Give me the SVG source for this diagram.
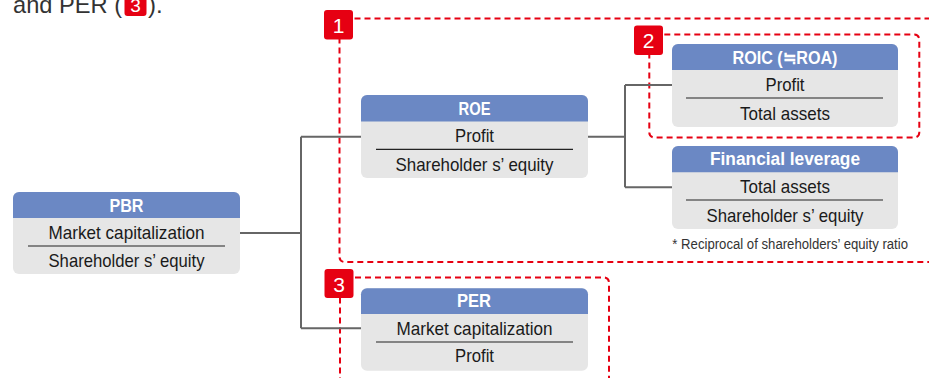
<svg xmlns="http://www.w3.org/2000/svg" width="929" height="378" viewBox="0 0 929 378">
<style>
  .hdr{fill:#6b88c4}
  .body{fill:#e6e6e6}
  .ht{font-family:"Liberation Sans",Arial,sans-serif;font-size:18px;font-weight:bold;fill:#ffffff;text-anchor:middle}
  .bt{font-family:"Liberation Sans",Arial,sans-serif;font-size:18.5px;fill:#1a1a1a;text-anchor:middle}
  .sep{stroke:#222;stroke-width:1.2}
  .conn{fill:none;stroke:#666;stroke-width:2}
  .dash{fill:none;stroke:#e60012;stroke-width:2;stroke-dasharray:6 4}
  .badge{fill:#e60012}
  .bn{font-family:"Liberation Sans",Arial,sans-serif;font-size:21px;fill:#ffffff;text-anchor:middle}
  .note{font-family:"Liberation Sans",Arial,sans-serif;font-size:14px;fill:#333}
  .top{font-family:"Liberation Sans",Arial,sans-serif;font-size:24px;fill:#333}
</style>

<!-- top caption (cut off at the top edge, as in the reference) -->
<g id="caption">
  <text class="top" x="13" y="12.5" textLength="109" lengthAdjust="spacingAndGlyphs">and PER (</text>
  <rect class="badge" x="124.5" y="-6" width="22" height="22" rx="3"/>
  <text x="135.5" y="12" style="font-family:'Liberation Sans',Arial,sans-serif;font-size:19px;fill:#fff;text-anchor:middle">3</text>
  <text class="top" x="148" y="12.5">).</text>
</g>

<!-- dashed group frames -->
<g id="frames">
  <rect class="dash" x="339.5" y="18.5" width="620" height="243.5" rx="5"/>
  <rect class="dash" x="649.3" y="34.5" width="270" height="103" rx="5"/>
  <rect class="dash" x="340" y="277.5" width="269" height="140" rx="5"/>
</g>

<!-- connectors -->
<g id="connectors">
  <path class="conn" d="M240 233 H301 M301 136.7 V328.3 M301 136.7 H361 M301 328.3 H361"/>
  <path class="conn" d="M588 136.7 H625 M625 85 V187.3 M625 85 H672 M625 187.3 H672"/>
</g>

<!-- PBR -->
<g id="node-pbr">
  <rect class="body" x="13" y="192" width="227" height="82" rx="6"/>
  <path class="hdr" d="M13 218 V198 a6 6 0 0 1 6 -6 H234 a6 6 0 0 1 6 6 V218 Z"/>
  <text class="ht" x="126.5" y="211.5" textLength="34" lengthAdjust="spacingAndGlyphs">PBR</text>
  <text class="bt" x="126.5" y="239" textLength="156" lengthAdjust="spacingAndGlyphs">Market capitalization</text>
  <line class="sep" x1="28" y1="246" x2="225" y2="246"/>
  <text class="bt" x="126.5" y="267" textLength="156" lengthAdjust="spacingAndGlyphs">Shareholder s’ equity</text>
</g>

<!-- ROE -->
<g id="node-roe">
  <rect class="body" x="361" y="95" width="227" height="83" rx="6"/>
  <path class="hdr" d="M361 121.5 V101 a6 6 0 0 1 6 -6 H582 a6 6 0 0 1 6 6 V121.5 Z"/>
  <text class="ht" x="474.5" y="114.8" textLength="32" lengthAdjust="spacingAndGlyphs">ROE</text>
  <text class="bt" x="474.5" y="141.7" textLength="39" lengthAdjust="spacingAndGlyphs">Profit</text>
  <line class="sep" x1="376" y1="149.3" x2="573" y2="149.3"/>
  <text class="bt" x="474.5" y="170.5" textLength="158" lengthAdjust="spacingAndGlyphs">Shareholder s’ equity</text>
</g>

<!-- ROIC -->
<g id="node-roic">
  <rect class="body" x="672" y="44" width="226" height="83" rx="6"/>
  <path class="hdr" d="M672 70 V50 a6 6 0 0 1 6 -6 H892 a6 6 0 0 1 6 6 V70 Z"/>
  <text class="ht" x="785" y="63.5" textLength="105" lengthAdjust="spacingAndGlyphs">ROIC (≒ROA)</text>
  <text class="bt" x="785" y="91" textLength="39" lengthAdjust="spacingAndGlyphs">Profit</text>
  <line class="sep" x1="686" y1="98" x2="883" y2="98"/>
  <text class="bt" x="785" y="119.5" textLength="90" lengthAdjust="spacingAndGlyphs">Total assets</text>
</g>

<!-- Financial leverage -->
<g id="node-fl">
  <rect class="body" x="672" y="146" width="226" height="83" rx="6"/>
  <path class="hdr" d="M672 172.3 V152 a6 6 0 0 1 6 -6 H892 a6 6 0 0 1 6 6 V172.3 Z"/>
  <text class="ht" x="785" y="165" textLength="150" lengthAdjust="spacingAndGlyphs">Financial leverage</text>
  <text class="bt" x="785" y="193" textLength="90" lengthAdjust="spacingAndGlyphs">Total assets</text>
  <line class="sep" x1="686" y1="200" x2="883" y2="200"/>
  <text class="bt" x="785" y="221.5" textLength="157" lengthAdjust="spacingAndGlyphs">Shareholder s’ equity</text>
  <text class="note" x="672.3" y="249.3" textLength="235.7" lengthAdjust="spacingAndGlyphs">* Reciprocal of shareholders’ equity ratio</text>
</g>

<!-- PER -->
<g id="node-per">
  <rect class="body" x="361" y="288.3" width="227" height="82.4" rx="6"/>
  <path class="hdr" d="M361 314 V294.3 a6 6 0 0 1 6 -6 H582 a6 6 0 0 1 6 6 V314 Z"/>
  <text class="ht" x="474" y="307.3" textLength="34" lengthAdjust="spacingAndGlyphs">PER</text>
  <text class="bt" x="474.5" y="335" textLength="156" lengthAdjust="spacingAndGlyphs">Market capitalization</text>
  <line class="sep" x1="376" y1="342" x2="573" y2="342"/>
  <text class="bt" x="474.5" y="361.5" textLength="39" lengthAdjust="spacingAndGlyphs">Profit</text>
</g>

<!-- badges -->
<g id="badge-1">
  <rect class="badge" x="324" y="10" width="29" height="29.5" rx="3"/>
  <text class="bn" x="338.5" y="32.5">1</text>
</g>
<g id="badge-2">
  <rect class="badge" x="634" y="25.5" width="29" height="29.5" rx="3"/>
  <text class="bn" x="648.5" y="48">2</text>
</g>
<g id="badge-3">
  <rect class="badge" x="324.5" y="269" width="29" height="29" rx="3"/>
  <text class="bn" x="339" y="291.5">3</text>
</g>
</svg>
